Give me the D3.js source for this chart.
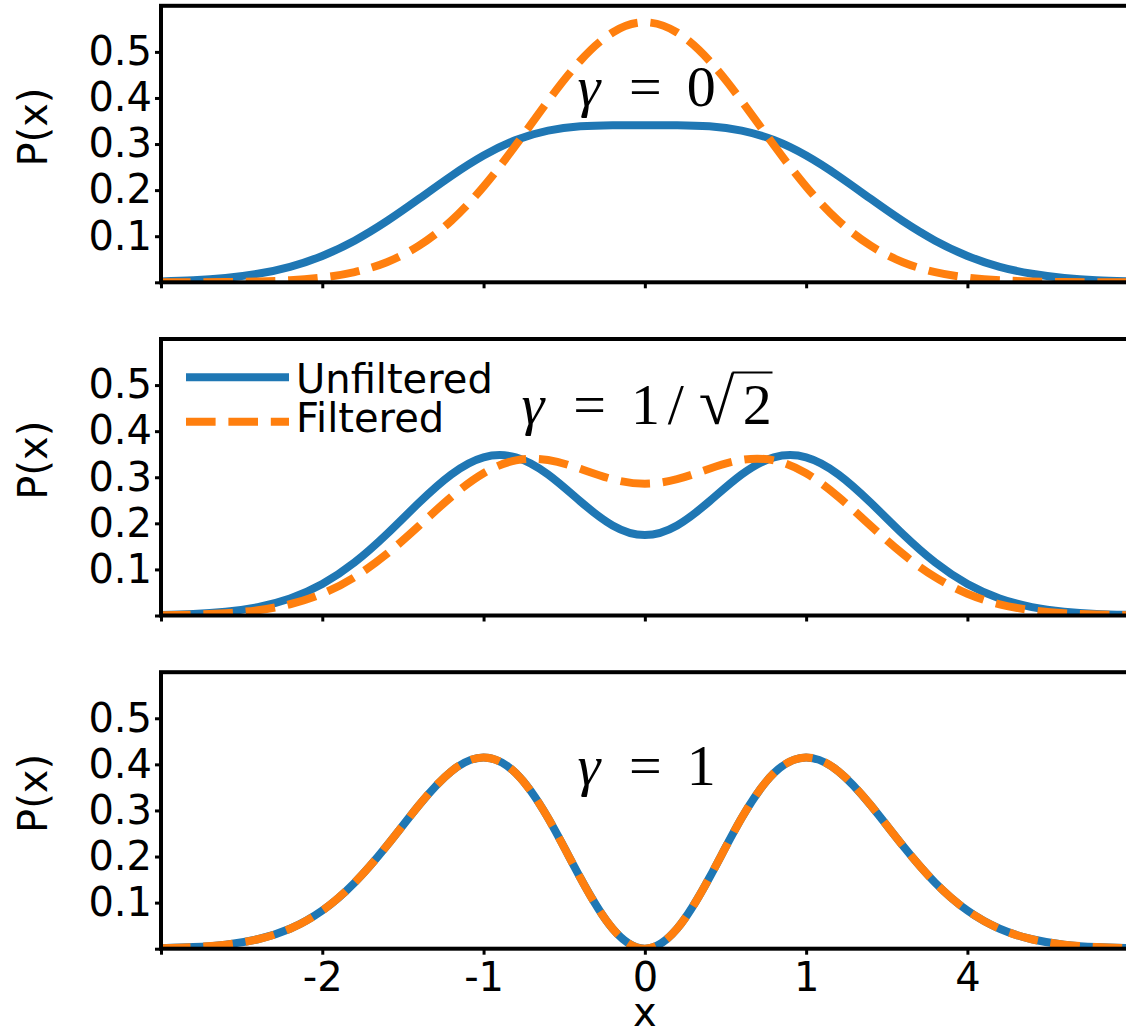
<!DOCTYPE html>
<html>
<head>
<meta charset="utf-8">
<script src="https://cdn.jsdelivr.net/npm/d3@7"></script>
<style>
  body { margin: 0; background: #fff; }
  svg { display: block; }
</style>
</head>
<body>
<svg id="chart" width="1126" height="1032"></svg>
<script>
// Sample positions along x
const xs = [-3.0,-2.8,-2.6,-2.4,-2.2,-2.0,-1.8,-1.6,-1.4,-1.2,-1.0,-0.8,-0.6,-0.4,-0.2,0.0,
            0.2,0.4,0.6,0.8,1.0,1.2,1.4,1.6,1.8,2.0,2.2,2.4,2.6,2.8,3.0];

// gamma = 0
const topUnfiltered = [0.0020,0.0045,0.0094,0.0185,0.0337,0.0572,0.0903,0.1326,0.1811,0.2307,0.2750,0.3086,0.3291,0.3384,0.3408,0.3410,
                       0.3408,0.3384,0.3291,0.3086,0.2750,0.2307,0.1811,0.1326,0.0903,0.0572,0.0337,0.0185,0.0094,0.0045,0.0020];
const topFiltered   = [0.0001,0.0002,0.0007,0.0018,0.0045,0.0103,0.0221,0.0436,0.0795,0.1337,0.2076,0.2975,0.3936,0.4808,0.5421,0.5642,
                       0.5421,0.4808,0.3936,0.2975,0.2076,0.1337,0.0795,0.0436,0.0221,0.0103,0.0045,0.0018,0.0007,0.0002,0.0001];

// gamma = 1/sqrt(2)
const midUnfiltered = [0.0013,0.0034,0.0083,0.0182,0.0369,0.0683,0.1151,0.1765,0.2449,0.3061,0.3432,0.3431,0.3059,0.2476,0.1954,0.1745,
                       0.1954,0.2476,0.3059,0.3431,0.3432,0.3061,0.2449,0.1765,0.1151,0.0683,0.0369,0.0182,0.0083,0.0034,0.0013];
const midFiltered   = [0.0007,0.0020,0.0050,0.0115,0.0244,0.0472,0.0832,0.1335,0.1947,0.2574,0.3087,0.3367,0.3375,0.3184,0.2958,0.2860,
                       0.2958,0.3184,0.3375,0.3367,0.3087,0.2574,0.1947,0.1335,0.0832,0.0472,0.0244,0.0115,0.0050,0.0020,0.0007];

// gamma = 1
const botUnfiltered = [0.0012,0.0035,0.0088,0.0205,0.0432,0.0827,0.1432,0.2233,0.3115,0.3850,0.4151,0.3808,0.2834,0.1539,0.0434,0.0000,
                       0.0434,0.1539,0.2834,0.3808,0.4151,0.3850,0.3115,0.2233,0.1432,0.0827,0.0432,0.0205,0.0088,0.0035,0.0012];
const botFiltered   = [0.0012,0.0035,0.0088,0.0205,0.0432,0.0827,0.1432,0.2233,0.3115,0.3850,0.4151,0.3808,0.2834,0.1539,0.0434,0.0000,
                       0.0434,0.1539,0.2834,0.3808,0.4151,0.3850,0.3115,0.2233,0.1432,0.0827,0.0432,0.0205,0.0088,0.0035,0.0012];

// Axis ticks and their labels
const xTicks = [-3, -2, -1, 0, 1, 2, 3];
const xTickLabels = ["", "-2", "-1", "0", "1", "4", ""];
const yTicks = [0, 0.1, 0.2, 0.3, 0.4, 0.5];
const yTickLabels = ["", "0.1", "0.2", "0.3", "0.4", "0.5"];

// Panel annotations: gamma value (as math pieces) and its anchor in data units
const gammaValues = [["0"], ["1", "/", "√", "2"], ["1"]];
const gammaAnchorY = [0.382, 0.416, 0.355];
const seriesNames = ["Unfiltered", "Filtered"];

// ---------- layout ----------
const BLUE = "#1f77b4", ORANGE = "#ff7f0e";
const LW = 8, DASH = "29.6,12.8";
const plotLeft = 161, plotRight = 1128.7;
const panelTops = [5.8, 339.0, 672.2];
const panelH = 276.5;
const SANS = "'DejaVu Sans', Verdana, sans-serif";
const SERIF = "'Liberation Serif', Tinos, 'Times New Roman', 'DejaVu Serif', serif";

const panels = [
  { unf: topUnfiltered, fil: topFiltered },
  { unf: midUnfiltered, fil: midFiltered },
  { unf: botUnfiltered, fil: botFiltered }
];

const svg = d3.select("#chart");
svg.append("rect").attr("width", 1126).attr("height", 1032).attr("fill", "#fff");

const x = d3.scaleLinear().domain([-3, 3]).range([plotLeft, plotRight]);

// advance widths (em) of math glyph slots
const slotEm = { "γ": 0.518, "=": 1.334, "0": 0.5, "1": 0.5, "2": 0.5, "/": 0.5, "√": 0.833 };

function drawGamma(g, pieces, cx, baseY, em, fs) {
  const parts = ["γ", "="].concat(pieces);
  const total = d3.sum(parts, p => slotEm[p]) * em;
  let cursor = cx - total / 2;
  const text = g.append("text")
    .attr("y", baseY)
    .attr("font-family", SERIF)
    .attr("font-size", fs)
    .attr("fill", "#000")
    .style("white-space", "pre");
  let sqrtInfo = null;
  parts.forEach(p => {
    const slotW = slotEm[p] * em;
    const ts = text.append("tspan")
      .text(p === "=" ? " = " : p)
      .attr("font-style", p === "γ" ? "italic" : "normal");
    if (p === "√") ts.attr("font-size", fs * 1.12);
    const w = ts.node().getComputedTextLength();
    ts.attr("x", cursor + (slotW - w) / 2);
    if (p === "√") sqrtInfo = { right: cursor + (slotW + w) / 2 };
    if (sqrtInfo && p === "2") sqrtInfo.end = cursor + slotW;
    cursor += slotW;
  });
  if (sqrtInfo) {
    g.append("line")
      .attr("x1", sqrtInfo.right - 2).attr("x2", sqrtInfo.end)
      .attr("y1", baseY - 0.84 * em).attr("y2", baseY - 0.84 * em)
      .attr("stroke", "#000").attr("stroke-width", 2);
  }
}

panels.forEach((p, i) => {
  const top = panelTops[i];
  const y = d3.scaleLinear().domain([0, 0.6]).range([top + panelH, top]);
  const g = svg.append("g");

  const clipId = "clip" + i;
  svg.append("clipPath").attr("id", clipId)
    .append("rect").attr("x", plotLeft).attr("y", top)
    .attr("width", plotRight - plotLeft).attr("height", panelH);

  const line = d3.line()
    .x((d, k) => x(xs[k]))
    .y(d => y(d))
    .curve(d3.curveNatural);

  const curves = g.append("g").attr("clip-path", `url(#${clipId})`);
  curves.append("path").datum(p.unf)
    .attr("d", line).attr("fill", "none")
    .attr("stroke", BLUE).attr("stroke-width", LW);
  curves.append("path").datum(p.fil)
    .attr("d", line).attr("fill", "none")
    .attr("stroke", ORANGE).attr("stroke-width", LW)
    .attr("stroke-dasharray", DASH);

  // gamma annotation
  drawGamma(g, gammaValues[i], x(0), y(gammaAnchorY[i]), 61, 58);

  // axes
  const yAxis = d3.axisLeft(y).tickValues(yTicks)
    .tickFormat((d, k) => yTickLabels[k]).tickSize(6).tickPadding(3);
  const ya = g.append("g").attr("transform", `translate(${plotLeft},0)`).call(yAxis);
  const xAxis = d3.axisBottom(x).tickValues(xTicks)
    .tickFormat((d, k) => (i === 2 ? xTickLabels[k] : "")).tickSize(6).tickPadding(8);
  const xa = g.append("g").attr("transform", `translate(0,${top + panelH})`).call(xAxis);
  [ya, xa].forEach(a => {
    a.select(".domain").remove();
    a.selectAll(".tick line").attr("stroke", "#000").attr("stroke-width", 3);
    a.selectAll(".tick text").attr("font-family", SANS).attr("font-size", 40).attr("fill", "#000");
  });

  // frame
  g.append("rect").attr("x", plotLeft).attr("y", top)
    .attr("width", plotRight - plotLeft).attr("height", panelH)
    .attr("fill", "none").attr("stroke", "#000").attr("stroke-width", 4);

  // y label
  g.append("text")
    .attr("transform", `translate(47,${top + panelH / 2 - 17}) rotate(-90)`)
    .attr("text-anchor", "middle")
    .attr("font-family", SANS).attr("font-size", 40).attr("fill", "#000")
    .text("P(x)");

  // legend in the middle panel
  if (i === 1) {
    const lg = g.append("g").attr("transform", `translate(${plotLeft},${top})`);
    const rows = [{ c: BLUE, dash: null, yy: 38.3, ty: 54 }, { c: ORANGE, dash: DASH, yy: 82.7, ty: 93 }];
    rows.forEach((r, k) => {
      const ln = lg.append("line").attr("x1", 25).attr("x2", 128)
        .attr("y1", r.yy).attr("y2", r.yy)
        .attr("stroke", r.c).attr("stroke-width", LW);
      if (r.dash) ln.attr("stroke-dasharray", r.dash);
      lg.append("text").attr("x", 135).attr("y", r.ty)
        .attr("font-family", SANS).attr("font-size", 40).attr("fill", "#000")
        .text(seriesNames[k]);
    });
  }
});

// x label
svg.append("text")
  .attr("x", x(0)).attr("y", 1026)
  .attr("text-anchor", "middle")
  .attr("font-family", SANS).attr("font-size", 40).attr("fill", "#000")
  .text("x");
</script>
</body>
</html>
